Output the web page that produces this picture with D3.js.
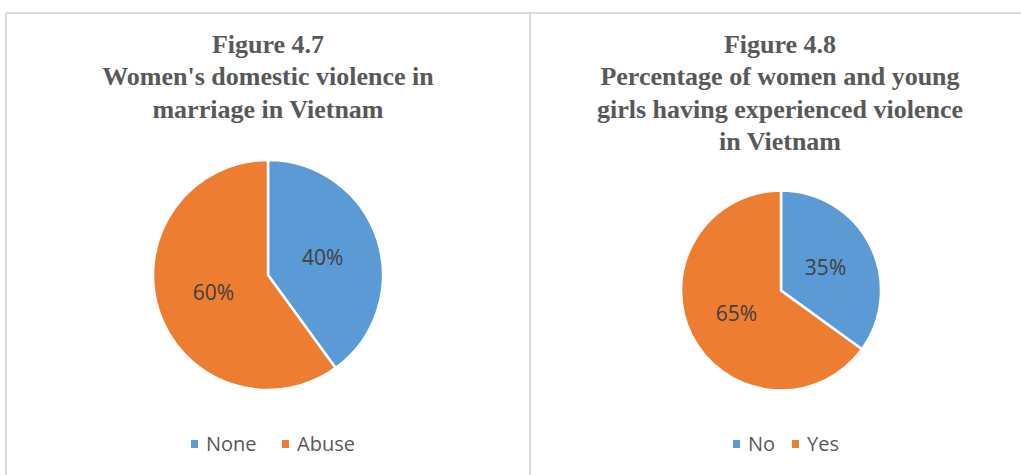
<!DOCTYPE html>
<html>
<head>
<meta charset="utf-8">
<script src="https://cdn.jsdelivr.net/npm/d3@7"></script>
<style>
  html, body { margin: 0; padding: 0; background: #ffffff; }
  svg { display: block; }
</style>
</head>
<body>
<svg id="chart" width="1021" height="475"></svg>
<script>
// Figure 4.7 data
const categoriesA = ["None", "Abuse"];
const valuesA = [40, 60];
const titleA = ["Figure 4.7", "Women's domestic violence in", "marriage in Vietnam"];

// Figure 4.8 data
const categoriesB = ["No", "Yes"];
const valuesB = [35, 65];
const titleB = ["Figure 4.8", "Percentage of women and young", "girls having experienced violence", "in Vietnam"];

const sliceColors = ["#5b9bd5", "#ed7d31"];

const svg = d3.select("#chart");

// Panel frames
const frame = svg.append("g")
  .attr("fill", "none")
  .attr("stroke", "#d9d9d9")
  .attr("stroke-width", 2);
frame.append("line").attr("x1", 6).attr("y1", 13).attr("x2", 1021).attr("y2", 13);
frame.append("line").attr("x1", 6).attr("y1", 13).attr("x2", 6).attr("y2", 475);
frame.append("line").attr("x1", 530).attr("y1", 13).attr("x2", 530).attr("y2", 475);

function drawPanel(opts) {
  const { cx, cy, r, title, cats, vals, titleX, legendItems } = opts;
  const g = svg.append("g");

  // Title block
  const t = g.append("text")
    .attr("x", titleX)
    .attr("y", 53)
    .attr("text-anchor", "middle")
    .attr("font-family", "'Liberation Serif', 'Times New Roman', serif")
    .attr("font-weight", "bold")
    .attr("font-size", 26)
    .attr("fill", "#595959");
  title.forEach((line, i) => {
    t.append("tspan").attr("x", titleX).attr("y", 53 + i * 32.3).text(line);
  });

  // Pie
  const pie = d3.pie().sort(null).value(d => d.v);
  const data = pie(cats.map((c, i) => ({ c, v: vals[i] })));
  const arc = d3.arc().innerRadius(0).outerRadius(r);
  const labelArc = d3.arc().innerRadius(r * 0.5).outerRadius(r * 0.5);
  const color = d3.scaleOrdinal().domain(cats).range(sliceColors);

  const pg = g.append("g").attr("transform", `translate(${cx},${cy})`);
  pg.selectAll("path")
    .data(data)
    .join("path")
    .attr("d", arc)
    .attr("fill", d => color(d.data.c))
    .attr("stroke", "#ffffff")
    .attr("stroke-width", 2.5)
    .attr("stroke-linejoin", "miter");

  pg.selectAll("text")
    .data(data)
    .join("text")
    .attr("transform", d => {
      const [x, y] = labelArc.centroid(d);
      return `translate(${x},${y})`;
    })
    .attr("text-anchor", "middle")
    .attr("dy", "0.36em")
    .attr("font-family", "'Open Sans', 'Noto Sans', sans-serif")
    .attr("font-size", 21)
    .attr("fill", "#404040")
    .text(d => d.data.v + "%");

  // Legend
  const lg = g.append("g")
    .attr("font-family", "'Open Sans', 'Noto Sans', sans-serif")
    .attr("font-size", 20)
    .attr("fill", "#595959");
  legendItems.forEach((item, i) => {
    lg.append("rect")
      .attr("x", item.x)
      .attr("y", 440)
      .attr("width", 7)
      .attr("height", 8)
      .attr("fill", color(cats[i]));
    lg.append("text")
      .attr("x", item.x + 15)
      .attr("y", 444)
      .attr("dy", "0.36em")
      .text(cats[i]);
  });
}

drawPanel({
  cx: 268, cy: 275, r: 115,
  title: titleA, cats: categoriesA, vals: valuesA, titleX: 268,
  legendItems: [{ x: 191 }, { x: 282 }]
});

drawPanel({
  cx: 781, cy: 290.5, r: 100,
  title: titleB, cats: categoriesB, vals: valuesB, titleX: 780,
  legendItems: [{ x: 733 }, { x: 792 }]
});
</script>
</body>
</html>
